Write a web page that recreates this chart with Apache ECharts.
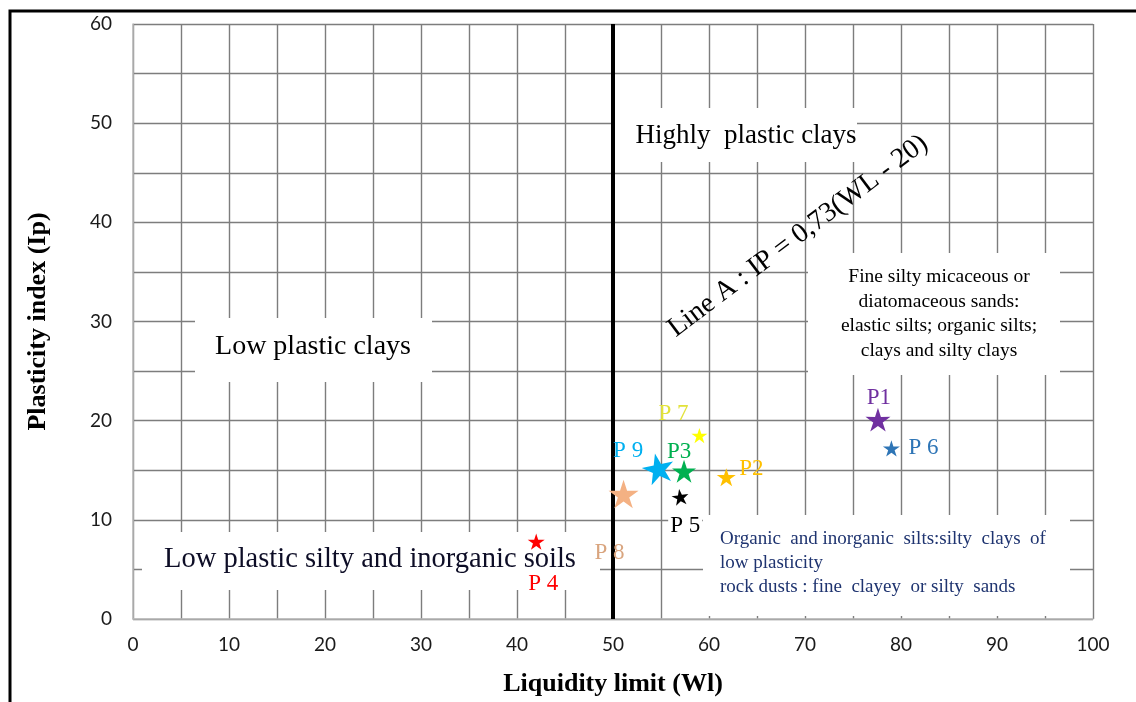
<!DOCTYPE html>
<html>
<head>
<meta charset="utf-8">
<title>Plasticity chart</title>
<script src="https://cdn.jsdelivr.net/npm/echarts@6.0.0/dist/echarts.min.js"></script>
<style>
  html, body { margin: 0; padding: 0; background: #ffffff; }
  #chart { width: 1136px; height: 702px; }
</style>
</head>
<body>
<div id="chart"></div>
<script>
// Sample points on the Casagrande plasticity chart
const samples = ['P1', 'P6', 'P7', 'P9', 'P3', 'P2', 'P5', 'P8', 'P4'];
const sampleLabels = ['P1', 'P 6', 'P 7', 'P 9', 'P3', 'P2', 'P 5', 'P 8', 'P 4'];
const liquidityLimit = [77.6, 79.0, 59.0, 54.7, 57.4, 61.8, 57.0, 51.1, 42.0];
const plasticityIndex = [20.1, 17.2, 18.5, 15.2, 14.9, 14.3, 12.3, 12.6, 7.8];

// Boundary between low and high plasticity (WL = 50)
const boundaryWL = [50, 50];
const boundaryIP = [0, 60];

// Axis ranges
const xRange = [0, 100];
const yRange = [0, 60];

// Marker appearance per sample
const sampleStyle = {
  P1: { color: '#7030A0', text: '#7030A0', size: 25, rotate: 0,  offset: [1, -22] },
  P6: { color: '#2E75B6', text: '#2E75B6', size: 17, rotate: 0,  offset: [32, 0] },
  P7: { color: '#FFFF00', text: '#E2E23A', size: 16, rotate: 0,  offset: [-26, -22] },
  P9: { color: '#00B0F0', text: '#00B0F0', size: 32, rotate: 12, offset: [-30, -17] },
  P3: { color: '#00B050', text: '#00B050', size: 24, rotate: 0,  offset: [-5, -19] },
  P2: { color: '#FFC000', text: '#FFC000', size: 19, rotate: 0,  offset: [25, -8] },
  P5: { color: '#000000', text: '#000000', size: 17, rotate: 8,  offset: [5, 29] },
  P8: { color: '#F4B183', text: '#D9A57F', size: 30, rotate: 0,  offset: [-14, 59] },
  P4: { color: '#FF0000', text: '#FF0000', size: 17, rotate: 0,  offset: [7, 42] }
};

const STAR = 'path://M50 0 L61.17 34.63 L97.55 34.55 L68.07 55.87 L79.39 90.45 L50 69 L20.61 90.45 L31.93 55.87 L2.45 34.55 L38.83 34.63 Z';
const SERIF = '"Liberation Serif", "Times New Roman", serif';
const TICK_FONT = 'Lato, "Noto Sans", sans-serif';
const GRID_COLOR = '#7d7d7d';

const points = samples.map(function (name, i) {
  const st = sampleStyle[name];
  return {
    name: name,
    value: [liquidityLimit[i], plasticityIndex[i]],
    symbolSize: st.size,
    symbolRotate: st.rotate,
    itemStyle: { color: st.color, opacity: 1 },
    label: {
      show: true,
      formatter: sampleLabels[i],
      position: 'inside',
      offset: st.offset,
      color: st.text,
      fontFamily: SERIF,
      fontSize: 23,
      backgroundColor: name === 'P5' ? '#ffffff' : 'transparent',
      padding: name === 'P5' ? [0, 2] : 0
    }
  };
});

// White text panels laid over the grid
function panel(x, y, w, h) {
  return { type: 'rect', shape: { x: x, y: y, width: w, height: h }, style: { fill: '#ffffff' }, z: 1, silent: true };
}
function caption(x, y, text, opts) {
  return {
    type: 'text', x: x, y: y, z: 3, silent: true,
    rotation: opts.rotation || 0,
    style: {
      text: text,
      x: 0, y: 0,
      fill: opts.color || '#000000',
      font: (opts.size || 28) + 'px ' + SERIF,
      align: opts.align || 'center',
      verticalAlign: 'middle',
      lineHeight: opts.lineHeight
    }
  };
}

const chart = echarts.init(document.getElementById('chart'), null, { renderer: 'canvas' });

chart.setOption({
  animation: false,
  backgroundColor: '#ffffff',
  grid: { left: 133, right: 43, top: 24, bottom: 83 },
  xAxis: {
    type: 'value',
    min: xRange[0], max: xRange[1], interval: 10,
    name: 'Liquidity limit (Wl)',
    nameLocation: 'middle',
    nameGap: 52,
    nameTextStyle: { fontFamily: SERIF, fontWeight: 'bold', fontSize: 26, color: '#000000' },
    axisLine: { show: true, lineStyle: { color: '#b8b8b8', width: 1.5 } },
    axisTick: { show: false },
    axisLabel: { fontFamily: TICK_FONT, fontSize: 19, color: '#1a1a1a', margin: 16 },
    splitLine: { show: true, lineStyle: { color: GRID_COLOR, width: 1.4 } },
    minorTick: { show: false, splitNumber: 2 },
    minorSplitLine: { show: true, lineStyle: { color: GRID_COLOR, width: 1.4 } }
  },
  yAxis: {
    type: 'value',
    min: yRange[0], max: yRange[1], interval: 10,
    name: 'Plasticity index (Ip)',
    nameLocation: 'middle',
    nameRotate: 90,
    nameGap: 82,
    nameTextStyle: { fontFamily: SERIF, fontWeight: 'bold', fontSize: 26, color: '#000000' },
    axisLine: { show: true, lineStyle: { color: '#b8b8b8', width: 1.5 } },
    axisTick: { show: false },
    axisLabel: { fontFamily: TICK_FONT, fontSize: 19, color: '#1a1a1a', margin: 21 },
    splitLine: { show: true, lineStyle: { color: GRID_COLOR, width: 1.4 } },
    minorTick: { show: false, splitNumber: 2 },
    minorSplitLine: { show: true, lineStyle: { color: GRID_COLOR, width: 1.4 } }
  },
  graphic: [
    // outer frame
    { type: 'rect', shape: { x: 10, y: 11, width: 1140, height: 700 }, style: { fill: 'none', stroke: '#000000', lineWidth: 3 }, z: 0, silent: true },
    panel(615, 108, 242, 54),
    panel(195, 318, 237, 64),
    panel(142, 532, 458, 58),
    panel(808, 253, 252, 122),
    panel(703, 515, 367, 101),
    caption(746, 136, 'Highly  plastic clays', { size: 27 }),
    caption(313, 347, 'Low plastic clays', { size: 28 }),
    caption(370, 560, 'Low plastic silty and inorganic soils', { size: 28.5, color: '#0d0d26' }),
    caption(798, 236, 'Line A : IP = 0,73(WL - 20)', { size: 28, rotation: 37 * Math.PI / 180 }),
    caption(939, 314, 'Fine silty micaceous or\ndiatomaceous sands:\nelastic silts; organic silts;\nclays and silty clays', { size: 19.5, lineHeight: 24.5 }),
    caption(720, 563, 'Organic  and inorganic  silts:silty  clays  of\nlow plasticity\nrock dusts : fine  clayey  or silty  sands', { size: 19, lineHeight: 24, align: 'left', color: '#1F3470' })
  ],
  series: [
    {
      type: 'line',
      data: boundaryWL.map(function (wl, i) { return [wl, boundaryIP[i]]; }),
      symbol: 'none',
      lineStyle: { color: '#000000', width: 4 },
      z: 4,
      silent: true
    },
    {
      type: 'scatter',
      symbol: STAR,
      symbolKeepAspect: true,
      data: points,
      itemStyle: { opacity: 1 },
      z: 5
    }
  ]
});
</script>
</body>
</html>
